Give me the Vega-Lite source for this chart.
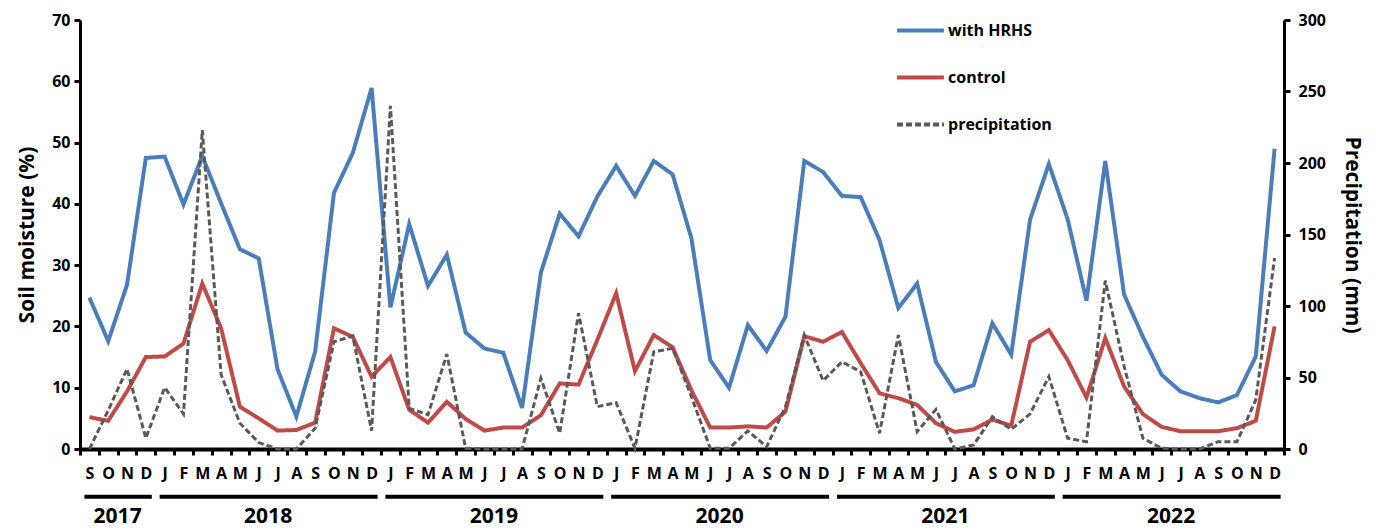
{
  "$schema": "https://vega.github.io/schema/vega-lite/v6.json",
  "width": 1204,
  "height": 429,
  "autosize": {"type": "none"},
  "padding": {"left": 80, "top": 20, "right": 92, "bottom": 81},
  "background": "white",
  "config": {
    "view": {"stroke": null},
    "font": "Open Sans",
    "axis": {"labelFont": "Open Sans", "labelFontWeight": "bold", "labelColor": "black", "titleFont": "Open Sans", "titleFontWeight": "bold", "titleColor": "black", "domainColor": "black", "tickColor": "black", "grid": false}
  },
  "datasets": {
    "m": [
      {"month": "2017-09", "with HRHS": 24.7, "control": 5.2, "precipitation": 0},
      {"month": "2017-10", "with HRHS": 17.6, "control": 4.6, "precipitation": 27},
      {"month": "2017-11", "with HRHS": 26.8, "control": 9.4, "precipitation": 56},
      {"month": "2017-12", "with HRHS": 47.5, "control": 15.0, "precipitation": 7.5},
      {"month": "2018-01", "with HRHS": 47.7, "control": 15.1, "precipitation": 43},
      {"month": "2018-02", "with HRHS": 39.9, "control": 17.2, "precipitation": 24.5},
      {"month": "2018-03", "with HRHS": 47.8, "control": 27.0, "precipitation": 223},
      {"month": "2018-04", "with HRHS": 40.1, "control": 19.7, "precipitation": 52},
      {"month": "2018-05", "with HRHS": 32.6, "control": 6.9, "precipitation": 18},
      {"month": "2018-06", "with HRHS": 31.1, "control": 5.0, "precipitation": 4.5},
      {"month": "2018-07", "with HRHS": 13.0, "control": 3.0, "precipitation": 0},
      {"month": "2018-08", "with HRHS": 5.3, "control": 3.1, "precipitation": 0},
      {"month": "2018-09", "with HRHS": 15.9, "control": 4.3, "precipitation": 14.5},
      {"month": "2018-10", "with HRHS": 41.8, "control": 19.7, "precipitation": 75},
      {"month": "2018-11", "with HRHS": 48.3, "control": 18.3, "precipitation": 79},
      {"month": "2018-12", "with HRHS": 58.9, "control": 11.8, "precipitation": 12.8},
      {"month": "2019-01", "with HRHS": 23.1, "control": 15.0, "precipitation": 240},
      {"month": "2019-02", "with HRHS": 36.7, "control": 6.4, "precipitation": 28.4},
      {"month": "2019-03", "with HRHS": 26.6, "control": 4.3, "precipitation": 24},
      {"month": "2019-04", "with HRHS": 31.7, "control": 7.7, "precipitation": 66.4},
      {"month": "2019-05", "with HRHS": 19.0, "control": 4.9, "precipitation": 0.5},
      {"month": "2019-06", "with HRHS": 16.4, "control": 3.0, "precipitation": 0},
      {"month": "2019-07", "with HRHS": 15.7, "control": 3.5, "precipitation": 0},
      {"month": "2019-08", "with HRHS": 6.7, "control": 3.5, "precipitation": 0},
      {"month": "2019-09", "with HRHS": 28.8, "control": 5.5, "precipitation": 49.4},
      {"month": "2019-10", "with HRHS": 38.4, "control": 10.7, "precipitation": 11},
      {"month": "2019-11", "with HRHS": 34.7, "control": 10.5, "precipitation": 95},
      {"month": "2019-12", "with HRHS": 41.2, "control": 17.8, "precipitation": 29.6},
      {"month": "2020-01", "with HRHS": 46.2, "control": 25.4, "precipitation": 32.4},
      {"month": "2020-02", "with HRHS": 41.3, "control": 12.7, "precipitation": 0.5},
      {"month": "2020-03", "with HRHS": 47.0, "control": 18.6, "precipitation": 68},
      {"month": "2020-04", "with HRHS": 44.8, "control": 16.6, "precipitation": 70.4},
      {"month": "2020-05", "with HRHS": 34.4, "control": 9.6, "precipitation": 36.6},
      {"month": "2020-06", "with HRHS": 14.5, "control": 3.5, "precipitation": 0.5},
      {"month": "2020-07", "with HRHS": 10.0, "control": 3.5, "precipitation": 0.5},
      {"month": "2020-08", "with HRHS": 20.2, "control": 3.7, "precipitation": 12.6},
      {"month": "2020-09", "with HRHS": 16.0, "control": 3.5, "precipitation": 1.6},
      {"month": "2020-10", "with HRHS": 21.6, "control": 6.1, "precipitation": 29.6},
      {"month": "2020-11", "with HRHS": 47.0, "control": 18.4, "precipitation": 79.7},
      {"month": "2020-12", "with HRHS": 45.2, "control": 17.5, "precipitation": 47.8},
      {"month": "2021-01", "with HRHS": 41.3, "control": 19.1, "precipitation": 61},
      {"month": "2021-02", "with HRHS": 41.1, "control": 14.0, "precipitation": 54},
      {"month": "2021-03", "with HRHS": 34.1, "control": 9.1, "precipitation": 11},
      {"month": "2021-04", "with HRHS": 23.0, "control": 8.3, "precipitation": 79.7},
      {"month": "2021-05", "with HRHS": 27.0, "control": 7.2, "precipitation": 12.1},
      {"month": "2021-06", "with HRHS": 14.2, "control": 4.2, "precipitation": 27.7},
      {"month": "2021-07", "with HRHS": 9.4, "control": 2.8, "precipitation": 0},
      {"month": "2021-08", "with HRHS": 10.4, "control": 3.2, "precipitation": 2.8},
      {"month": "2021-09", "with HRHS": 20.5, "control": 4.8, "precipitation": 22.6},
      {"month": "2021-10", "with HRHS": 15.4, "control": 3.8, "precipitation": 13.8},
      {"month": "2021-11", "with HRHS": 37.4, "control": 17.5, "precipitation": 24.5},
      {"month": "2021-12", "with HRHS": 46.5, "control": 19.4, "precipitation": 50.6},
      {"month": "2022-01", "with HRHS": 37.5, "control": 14.5, "precipitation": 7.5},
      {"month": "2022-02", "with HRHS": 24.2, "control": 8.4, "precipitation": 5.1},
      {"month": "2022-03", "with HRHS": 47.0, "control": 18.1, "precipitation": 117.7},
      {"month": "2022-04", "with HRHS": 25.2, "control": 10.2, "precipitation": 58},
      {"month": "2022-05", "with HRHS": 18.3, "control": 5.7, "precipitation": 7.5},
      {"month": "2022-06", "with HRHS": 12.1, "control": 3.6, "precipitation": 0.5},
      {"month": "2022-07", "with HRHS": 9.4, "control": 2.9, "precipitation": 0},
      {"month": "2022-08", "with HRHS": 8.3, "control": 2.9, "precipitation": 0},
      {"month": "2022-09", "with HRHS": 7.6, "control": 2.9, "precipitation": 5.1},
      {"month": "2022-10", "with HRHS": 8.8, "control": 3.4, "precipitation": 5.1},
      {"month": "2022-11", "with HRHS": 15.1, "control": 4.6, "precipitation": 34.3},
      {"month": "2022-12", "with HRHS": 49.0, "control": 20.0, "precipitation": 133.6}
    ],
    "years": [
      {"year": "2017", "start": "2017-09", "end": "2017-12", "mid": "2017-11"},
      {"year": "2018", "start": "2018-01", "end": "2018-12", "mid": "2018-07"},
      {"year": "2019", "start": "2019-01", "end": "2019-12", "mid": "2019-07"},
      {"year": "2020", "start": "2020-01", "end": "2020-12", "mid": "2020-07"},
      {"year": "2021", "start": "2021-01", "end": "2021-12", "mid": "2021-07"},
      {"year": "2022", "start": "2022-01", "end": "2022-12", "mid": "2022-07"}
    ]
  },
  "layer": [
    {
      "layer": [
        {
          "data": {"name": "m"},
          "transform": [{"fold": ["with HRHS", "control"], "as": ["series", "value"]}],
          "mark": {"type": "line", "strokeWidth": 4},
          "encoding": {
            "x": {
              "field": "month", "type": "ordinal",
              "scale": {"type": "band", "paddingInner": 0, "paddingOuter": 0},
              "axis": {
                "title": null,
                "labelExpr": "['J','F','M','A','M','J','J','A','S','O','N','D'][toNumber(substring(datum.value,5,7))-1]",
                "labelAngle": 0, "labelFontSize": 16, "tickBand": "extent",
                "tickSize": 6, "tickWidth": 3, "domainWidth": 4, "labelPadding": 10
              }
            },
            "y": {
              "field": "value", "type": "quantitative",
              "scale": {"domain": [0, 70], "nice": false},
              "axis": {
                "title": "Soil moisture (%)", "values": [0, 10, 20, 30, 40, 50, 60, 70],
                "labelFontSize": 16, "titleFontSize": 21, "tickSize": 6, "tickWidth": 3,
                "domainWidth": 3, "labelPadding": 4, "titlePadding": 14
              }
            },
            "color": {
              "field": "series", "type": "nominal",
              "scale": {"domain": ["with HRHS", "control", "precipitation"], "range": ["#4A7EBB", "#BE4B48", "#595959"]},
              "legend": {"title": null, "orient": "none", "legendX": 815, "legendY": -15, "symbolType": "stroke", "symbolSize": 2200, "symbolStrokeWidth": 4, "labelFontSize": 16, "labelFontWeight": "bold", "labelFont": "Open Sans", "labelColor": "black", "rowPadding": 13, "labelOffset": 2}
            },
            "strokeDash": {
              "field": "series", "type": "nominal",
              "scale": {"domain": ["with HRHS", "control", "precipitation"], "range": [[1, 0], [1, 0], [6, 3]]},
              "legend": {"title": null, "orient": "none", "legendX": 815, "legendY": -15, "symbolType": "stroke", "symbolSize": 2200, "symbolStrokeWidth": 4, "labelFontSize": 16, "labelFontWeight": "bold", "labelFont": "Open Sans", "labelColor": "black", "rowPadding": 13, "labelOffset": 2}
            }
          }
        },
        {
          "data": {"name": "years"},
          "mark": {"type": "rule", "strokeWidth": 4, "color": "black", "xOffset": -5, "x2Offset": 6},
          "encoding": {
            "x": {
              "field": "start", "type": "ordinal",
              "scale": {"type": "band", "paddingInner": 0, "paddingOuter": 0},
              "axis": {
                "title": null,
                "labelExpr": "['J','F','M','A','M','J','J','A','S','O','N','D'][toNumber(substring(datum.value,5,7))-1]",
                "labelAngle": 0, "labelFontSize": 16, "tickBand": "extent",
                "tickSize": 6, "tickWidth": 3, "domainWidth": 4, "labelPadding": 10
              }
            },
            "x2": {"field": "end"},
            "y": {
              "datum": -7.8, "type": "quantitative",
              "axis": {
                "title": "Soil moisture (%)", "values": [0, 10, 20, 30, 40, 50, 60, 70],
                "labelFontSize": 16, "titleFontSize": 21, "tickSize": 6, "tickWidth": 3,
                "domainWidth": 3, "labelPadding": 4, "titlePadding": 14
              }
            }
          }
        },
        {
          "data": {"name": "years"},
          "mark": {"type": "text", "fontSize": 21, "fontWeight": "bold", "baseline": "alphabetic", "align": "center", "color": "black", "font": "Open Sans"},
          "encoding": {
            "x": {
              "field": "mid", "type": "ordinal", "bandPosition": 0,
              "scale": {"type": "band", "paddingInner": 0, "paddingOuter": 0},
              "axis": {
                "title": null,
                "labelExpr": "['J','F','M','A','M','J','J','A','S','O','N','D'][toNumber(substring(datum.value,5,7))-1]",
                "labelAngle": 0, "labelFontSize": 16, "tickBand": "extent",
                "tickSize": 6, "tickWidth": 3, "domainWidth": 4, "labelPadding": 10
              }
            },
            "y": {
              "datum": -12.15, "type": "quantitative",
              "axis": {
                "title": "Soil moisture (%)", "values": [0, 10, 20, 30, 40, 50, 60, 70],
                "labelFontSize": 16, "titleFontSize": 21, "tickSize": 6, "tickWidth": 3,
                "domainWidth": 3, "labelPadding": 4, "titlePadding": 14
              }
            },
            "text": {"field": "year"}
          }
        }
      ]
    },
    {
      "data": {"name": "m"},
      "transform": [{"fold": ["precipitation"], "as": ["series", "value"]}],
      "mark": {"type": "line", "strokeWidth": 3},
      "encoding": {
        "x": {
          "field": "month", "type": "ordinal",
          "scale": {"type": "band", "paddingInner": 0, "paddingOuter": 0},
          "axis": {
            "title": null,
            "labelExpr": "['J','F','M','A','M','J','J','A','S','O','N','D'][toNumber(substring(datum.value,5,7))-1]",
            "labelAngle": 0, "labelFontSize": 16, "tickBand": "extent",
            "tickSize": 6, "tickWidth": 3, "domainWidth": 4, "labelPadding": 10
          }
        },
        "y": {
          "field": "value", "type": "quantitative",
          "scale": {"domain": [0, 300], "nice": false},
          "axis": {
            "orient": "right", "title": "Precipitation (mm)", "values": [0, 50, 100, 150, 200, 250, 300],
            "labelFontSize": 16, "titleFontSize": 21, "tickSize": 6, "tickWidth": 3,
            "domainWidth": 3, "labelPadding": 8, "titlePadding": 16
          }
        },
        "color": {"field": "series", "type": "nominal"},
        "strokeDash": {"field": "series", "type": "nominal"}
      }
    }
  ],
  "resolve": {"scale": {"y": "independent"}}
}
